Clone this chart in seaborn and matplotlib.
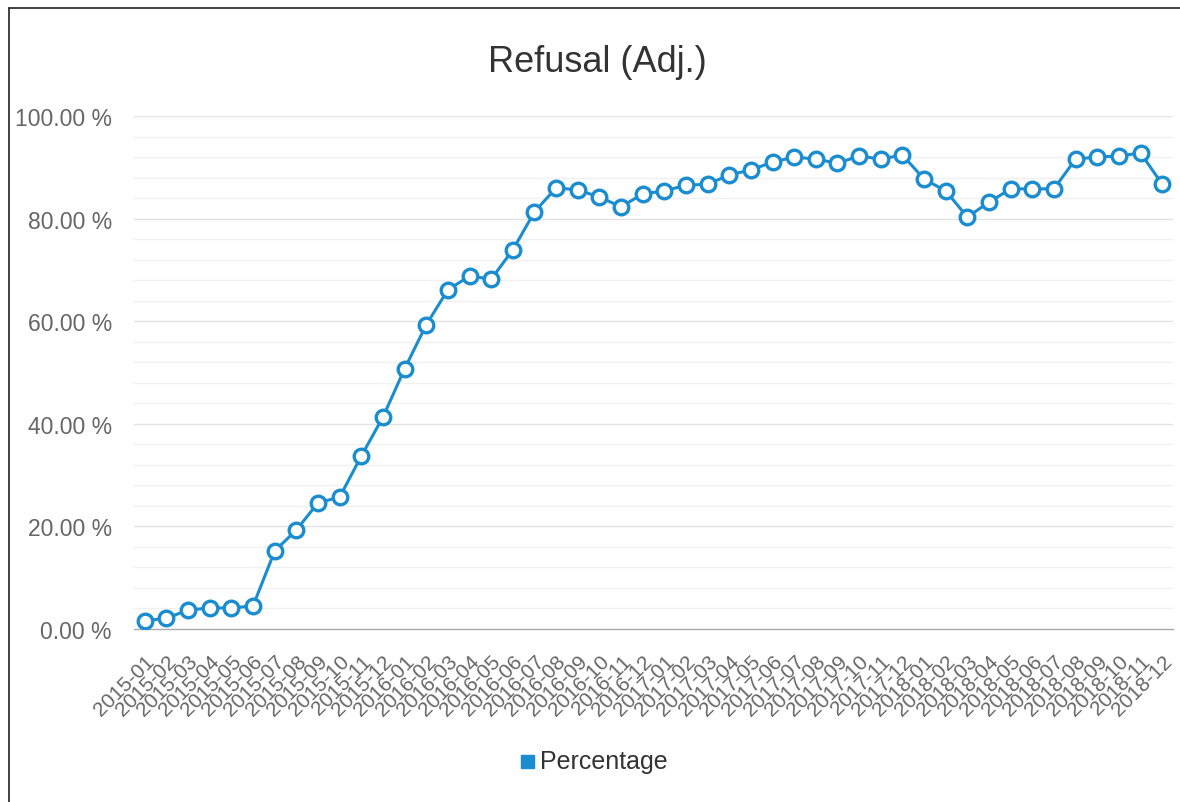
import matplotlib
matplotlib.use("Agg")
import matplotlib.pyplot as plt
import seaborn as sns
import pandas as pd
import numpy as np
from matplotlib.ticker import FixedLocator, FuncFormatter
from matplotlib.patches import Rectangle
from matplotlib.lines import Line2D

months = [f"{y}-{m:02d}" for y in range(2015, 2019) for m in range(1, 13)]
percentage = [1.6, 2.1, 3.7, 4.1, 4.1, 4.5, 15.2, 19.3, 24.6, 25.7, 33.7, 41.3,
              50.7, 59.3, 66.1, 68.8, 68.2, 73.9, 81.3, 86.0, 85.6, 84.2, 82.3, 84.8,
              85.4, 86.5, 86.7, 88.5, 89.5, 91.0, 92.0, 91.6, 90.8, 92.2, 91.6, 92.4,
              87.7, 85.4, 80.3, 83.2, 85.8, 85.8, 85.8, 91.6, 92.0, 92.2, 92.8, 86.7]
y_major = [0, 20, 40, 60, 80, 100]
y_minor = list(range(0, 101, 4))

df = pd.DataFrame({"month": months, "Percentage": percentage})
df["pos"] = np.arange(len(months))

sns.set_style("white")
plt.rcParams['font.family'] = ['Liberation Sans', 'DejaVu Sans']

color = "#1a8dd0"
fig = plt.figure(figsize=(11.8, 8.03), dpi=100)
ax = fig.add_axes([134/1180, 1-630/803, (1173-134)/1180, (630-117)/803])

sns.lineplot(data=df, x="pos", y="Percentage", ax=ax, color=color, linewidth=2.2,
             marker="o", markersize=10.5, markerfacecolor="white",
             markeredgecolor=color, markeredgewidth=2.4, legend=False, zorder=5)

ax.set_xlim(-0.5, len(months) - 0.5)
ax.set_ylim(0, 100)

# grid
for v in y_minor:
    if v in y_major:
        continue
    ax.axhline(v, color="#f0f0f0", linewidth=1, zorder=0)
for v in y_major[1:]:
    ax.axhline(v, color="#e2e2e2", linewidth=1, zorder=0)

ax.yaxis.set_major_locator(FixedLocator(y_major))
ax.yaxis.set_major_formatter(FuncFormatter(lambda v, p: f"{v:.2f} %"))
ax.tick_params(axis="y", length=0, pad=16, labelsize=16.5, labelcolor="#666666")

ax.set_xticks(df["pos"])
ax.set_xticklabels(months, rotation=45, ha="right", rotation_mode="anchor",
                   fontsize=15, color="#666666")
ax.tick_params(axis="x", which="major", length=0, pad=16)
ax.set_xticks(np.arange(len(months) + 1) - 0.5, minor=True)
ax.tick_params(axis="x", which="minor", length=8, width=1, color="#aaaaaa", direction="out")

for s in ["top", "right", "left"]:
    ax.spines[s].set_visible(False)
ax.spines["bottom"].set_color("#aaaaaa")
ax.spines["bottom"].set_linewidth(1)
ax.set_xlabel("")
ax.set_ylabel("")

fig.text(597/1180, 1-63/803, "Refusal (Adj.)", ha="center", va="center",
         fontsize=26, color="#333333")

# legend
fig.patches.append(Rectangle((521/1180, 1-769/803), 13/1180, 13/803,
                             transform=fig.transFigure, color=color, figure=fig))
fig.text(540/1180, 1-762/803, "Percentage", ha="left", va="center",
         fontsize=18, color="#333333")

# outer frame (left and top only)
fx = 8.5/1180
fy = 1 - 9/803
fig.lines.append(Line2D([fx, fx], [0, fy], transform=fig.transFigure,
                        color="#222222", linewidth=1.2, figure=fig))
fig.lines.append(Line2D([fx, 1], [fy, fy], transform=fig.transFigure,
                        color="#222222", linewidth=1.2, figure=fig))

fig.savefig("out.png", dpi=100)
